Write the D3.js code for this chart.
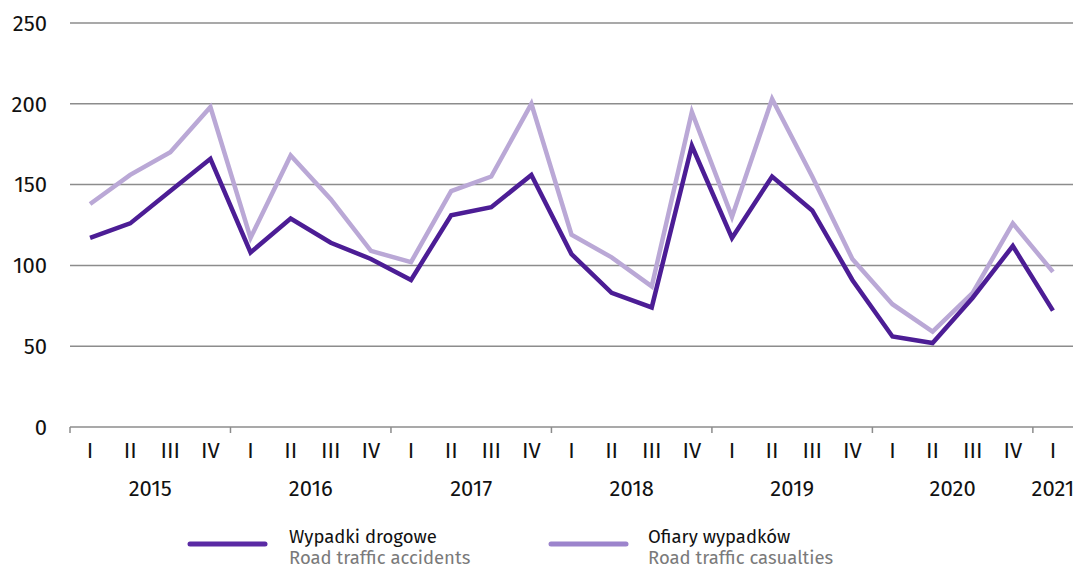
<!DOCTYPE html>
<html>
<head>
<meta charset="utf-8">
<script src="https://cdn.jsdelivr.net/npm/d3@7"></script>
<style>
  body { margin: 0; background: #fff; }
  svg { display: block; font-family: "Fira Sans", "Noto Sans", "Open Sans", sans-serif; }
</style>
</head>
<body>
<svg id="chart"></svg>
<script>
(function (d3) {
    'use strict';

    var years = ['2015', '2016', '2017', '2018', '2019', '2020', '2021'];
    var quarters = ['I', 'II', 'III', 'IV'];
    var yTicks = [0, 50, 100, 150, 200, 250];

    var accidents = [117, 126, 146, 166, 108, 129, 114, 104, 91, 131, 136, 156,
        107, 83, 74, 174, 117, 155, 134, 91, 56, 52, 80, 112, 72];
    var casualties = [138, 156, 170, 198, 117, 168, 141, 109, 102, 146, 155, 200,
        119, 105, 87, 195, 130, 203, 155, 104, 76, 59, 83, 126, 96];

    var width = 1079,
        height = 569,
        margin = { top: 23, right: 6, bottom: 142, left: 70 };

    // one band per quarter, 2015 I .. 2021 I
    var periods = accidents.map(function (d, i) {
        return { key: i, year: years[Math.floor(i / 4)], q: quarters[i % 4] };
    });

    var x = d3.scaleBand()
        .domain(periods.map(function (d) { return d.key; }))
        .range([margin.left, width - margin.right]);

    var y = d3.scaleLinear()
        .domain([0, 250])
        .range([height - margin.bottom, margin.top]);

    var svg = d3.select('#chart')
        .attr('width', width)
        .attr('height', height);

    // grid
    svg.append('g')
        .selectAll('line')
        .data(yTicks.filter(function (d) { return d > 0; }))
        .enter()
        .append('line')
        .attr('x1', margin.left)
        .attr('x2', width - margin.right)
        .attr('y1', function (d) { return y(d); })
        .attr('y2', function (d) { return y(d); })
        .attr('stroke', '#8c8c8c')
        .attr('stroke-width', 1.5);

    // y labels
    svg.append('g')
        .selectAll('text')
        .data(yTicks)
        .enter()
        .append('text')
        .attr('x', 47)
        .attr('y', function (d) { return y(d); })
        .attr('dy', '0.35em')
        .attr('text-anchor', 'end')
        .attr('font-size', 22)
        .attr('fill', '#111')
        .text(function (d) { return d; });

    // x axis line and year boundary ticks
    var base = y(0);
    svg.append('line')
        .attr('x1', margin.left)
        .attr('x2', width - margin.right)
        .attr('y1', base)
        .attr('y2', base)
        .attr('stroke', '#8c8c8c')
        .attr('stroke-width', 1.5);

    var boundaries = years.map(function (yr, i) { return x(i * 4); });
    svg.append('g')
        .selectAll('line')
        .data(boundaries)
        .enter()
        .append('line')
        .attr('x1', function (d) { return d; })
        .attr('x2', function (d) { return d; })
        .attr('y1', base)
        .attr('y2', base + 6)
        .attr('stroke', '#8c8c8c')
        .attr('stroke-width', 1.5);

    svg.append('g')
        .selectAll('text')
        .data(periods)
        .enter()
        .append('text')
        .attr('x', function (d) { return x(d.key) + x.bandwidth() / 2; })
        .attr('y', 458)
        .attr('text-anchor', 'middle')
        .attr('font-size', 22)
        .attr('fill', '#111')
        .text(function (d) { return d.q; });

    svg.append('g')
        .selectAll('text')
        .data(years)
        .enter()
        .append('text')
        .attr('x', function (d) {
            var idx = periods.filter(function (p) { return p.year === d; });
            var first = idx[0].key, last = idx[idx.length - 1].key;
            return (x(first) + x(last) + x.bandwidth()) / 2;
        })
        .attr('y', 496)
        .attr('text-anchor', 'middle')
        .attr('font-size', 22)
        .attr('fill', '#111')
        .text(function (d) { return d; });

    var line = d3.line()
        .x(function (d, i) { return x(i) + x.bandwidth() / 2; })
        .y(function (d) { return y(d); });

    svg.append('path')
        .datum(casualties)
        .attr('d', line)
        .attr('fill', 'none')
        .attr('stroke', '#baa8d6')
        .attr('stroke-width', 4.5);

    svg.append('path')
        .datum(accidents)
        .attr('d', line)
        .attr('fill', 'none')
        .attr('stroke', '#4c1d95')
        .attr('stroke-width', 4.5);

    // legend
    var legend = [
        { pl: 'Wypadki drogowe', en: 'Road traffic accidents', color: '#5a2aa4', x: 190, tx: 99 },
        { pl: 'Ofiary wypadków', en: 'Road traffic casualties', color: '#9c84cc', x: 551, tx: 97 }
    ];

    var lg = svg.selectAll('.legend')
        .data(legend)
        .enter()
        .append('g')
        .attr('class', 'legend')
        .attr('transform', function (d) { return 'translate(' + d.x + ',544)'; });

    lg.append('line')
        .attr('x1', 0)
        .attr('x2', 75)
        .attr('stroke', function (d) { return d.color; })
        .attr('stroke-width', 5)
        .attr('stroke-linecap', 'round');

    lg.append('text')
        .attr('x', function (d) { return d.tx; })
        .attr('y', -1)
        .attr('font-size', 18.5)
        .attr('fill', '#111')
        .text(function (d) { return d.pl; });

    lg.append('text')
        .attr('x', function (d) { return d.tx; })
        .attr('y', 20)
        .attr('font-size', 18.5)
        .attr('fill', '#7a7a7a')
        .text(function (d) { return d.en; });

})(window.d3);
</script>
</body>
</html>
